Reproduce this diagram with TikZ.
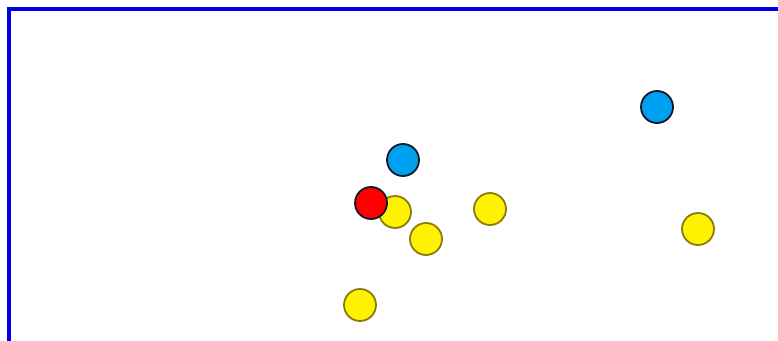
\documentclass[tikz,border=0pt]{standalone}
\definecolor{bordblue}{HTML}{0000E6}
\definecolor{skyb}{HTML}{00A0F0}
\definecolor{olive}{HTML}{8A7A10}
\definecolor{darkline}{HTML}{101828}
\tikzset{
  ball/.style={circle, minimum size=32pt, inner sep=0pt, line width=1.8pt},
  yball/.style={ball, fill=yellow, draw=olive},
  bball/.style={ball, fill=skyb, draw=darkline},
  rball/.style={ball, fill=red, draw=darkline}
}
\begin{document}
\begin{tikzpicture}[x=1pt,y=-1pt]
\useasboundingbox (0,0) rectangle (778,340);
\fill[white] (0,0) rectangle (778,340);
\clip (0,0) rectangle (778,340);
\draw[bordblue, line width=4pt] (9,9) rectangle (800,360);
\node[yball] (y1) at (395,212) {};
\node[rball] (r1) at (371,203) {};
\node[bball] (b1) at (403,160) {};
\node[yball] (y2) at (426,239) {};
\node[yball] (y3) at (490,209) {};
\node[yball] (y4) at (698,229) {};
\node[yball] (y5) at (360,305) {};
\node[bball] (b2) at (657,107) {};
\end{tikzpicture}
\end{document}
